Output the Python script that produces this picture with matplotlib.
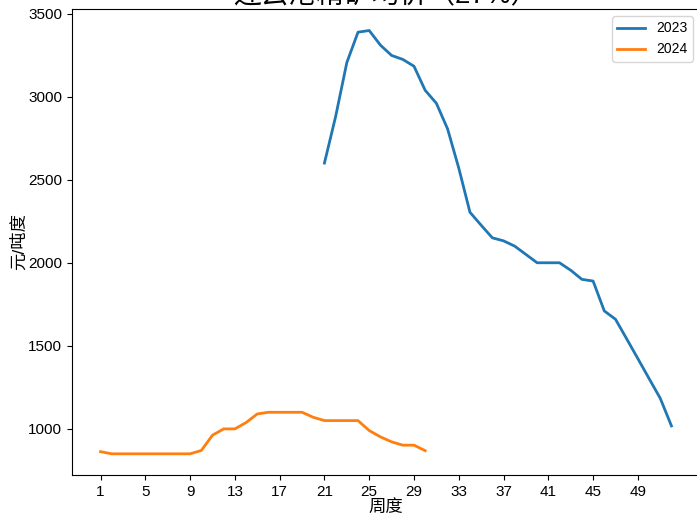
import matplotlib
matplotlib.use("Agg")
import matplotlib.pyplot as plt

plt.rcParams['font.family'] = ['Liberation Sans', 'Noto Sans CJK SC', 'DejaVu Sans']
plt.rcParams['axes.unicode_minus'] = False

weeks_2023 = list(range(21, 53))
price_2023 = [2600, 2880, 3205, 3388, 3398, 3310, 3248, 3224, 3183, 3038, 2960, 2806,
              2570, 2304, 2226, 2150, 2132, 2100, 2050, 2000, 2000, 2000, 1955, 1900,
              1890, 1710, 1660, 1542, 1423, 1303, 1184, 1018]
weeks_2024 = list(range(1, 31))
price_2024 = [863, 850, 850, 850, 850, 850, 850, 850, 850, 870, 962, 1000, 1000, 1038,
              1090, 1100, 1100, 1100, 1100, 1070, 1050, 1050, 1050, 1050, 990, 952,
              922, 902, 902, 869]
xticks = list(range(1, 53, 4))

title = "连云港精矿均价（27%）"
xlabel = "周度"
ylabel = "元/吨度"

fig = plt.figure(figsize=(6.97, 5.15), dpi=100)
ax = fig.add_axes([72 / 697, 1 - 475 / 515, 628 / 697, 466 / 515])
ax.plot(weeks_2023, price_2023, color='#1f77b4', lw=2, label='2023')
ax.plot(weeks_2024, price_2024, color='#ff7f0e', lw=2, label='2024')
ax.set_xticks(xticks)
ax.set_xlim(-1.55, 54.55)
ax.set_ylim(722.5, 3527.5)
ax.tick_params(labelsize=11)
ax.set_xlabel(xlabel, fontsize=12.5, labelpad=0)
ax.set_ylabel(ylabel, fontsize=12.5, labelpad=1)
ax.set_title(title, fontsize=20, pad=0)
ax.legend(loc='upper right', fontsize=10)
fig.savefig("out.png", dpi=100)
